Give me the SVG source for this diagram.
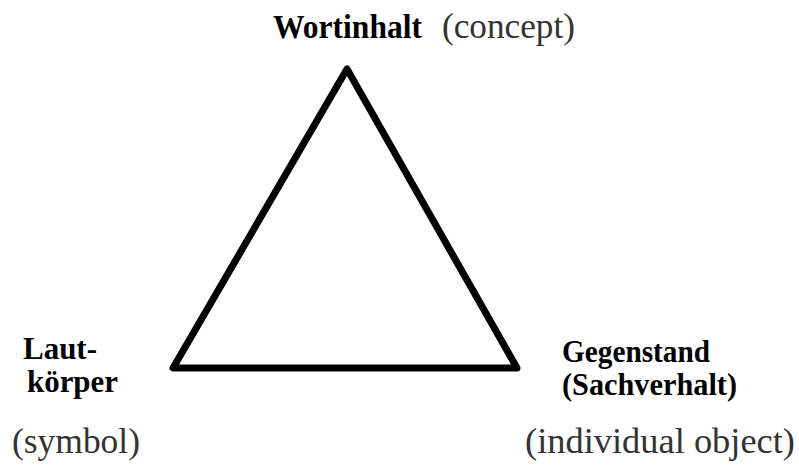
<svg xmlns="http://www.w3.org/2000/svg" width="799" height="467" viewBox="0 0 799 467">
<style>
.b{font-family:"Liberation Serif","Times New Roman",serif;font-weight:bold;font-size:31px;fill:#000}
.t{font-size:34px}
.r{font-family:"Liberation Serif","Times New Roman",serif;font-size:36px;fill:#333}
.edge{fill:none;stroke:#000;stroke-width:7;stroke-linejoin:round}
</style>
<rect width="799" height="467" fill="#fff"/>
<g id="connectors">
<polygon class="edge" points="347,69 173,368 517,368"/>
</g>
<g id="node-wortinhalt">
<text class="b t" x="273" y="38" textLength="149" lengthAdjust="spacingAndGlyphs">Wortinhalt</text>
<text class="r" x="442" y="38" textLength="133" lengthAdjust="spacingAndGlyphs">(concept)</text>
</g>
<g id="node-lautkoerper">
<text class="b" x="23" y="359" textLength="74" lengthAdjust="spacingAndGlyphs">Laut-</text>
<text class="b" x="27" y="392" textLength="91" lengthAdjust="spacingAndGlyphs">körper</text>
<text class="r" x="12" y="453" textLength="128" lengthAdjust="spacingAndGlyphs">(symbol)</text>
</g>
<g id="node-gegenstand">
<text class="b" x="562" y="362" textLength="148" lengthAdjust="spacingAndGlyphs">Gegenstand</text>
<text class="b" x="562" y="395" textLength="175" lengthAdjust="spacingAndGlyphs">(Sachverhalt)</text>
<text class="r" x="525" y="453" textLength="270" lengthAdjust="spacingAndGlyphs">(individual object)</text>
</g>
</svg>
